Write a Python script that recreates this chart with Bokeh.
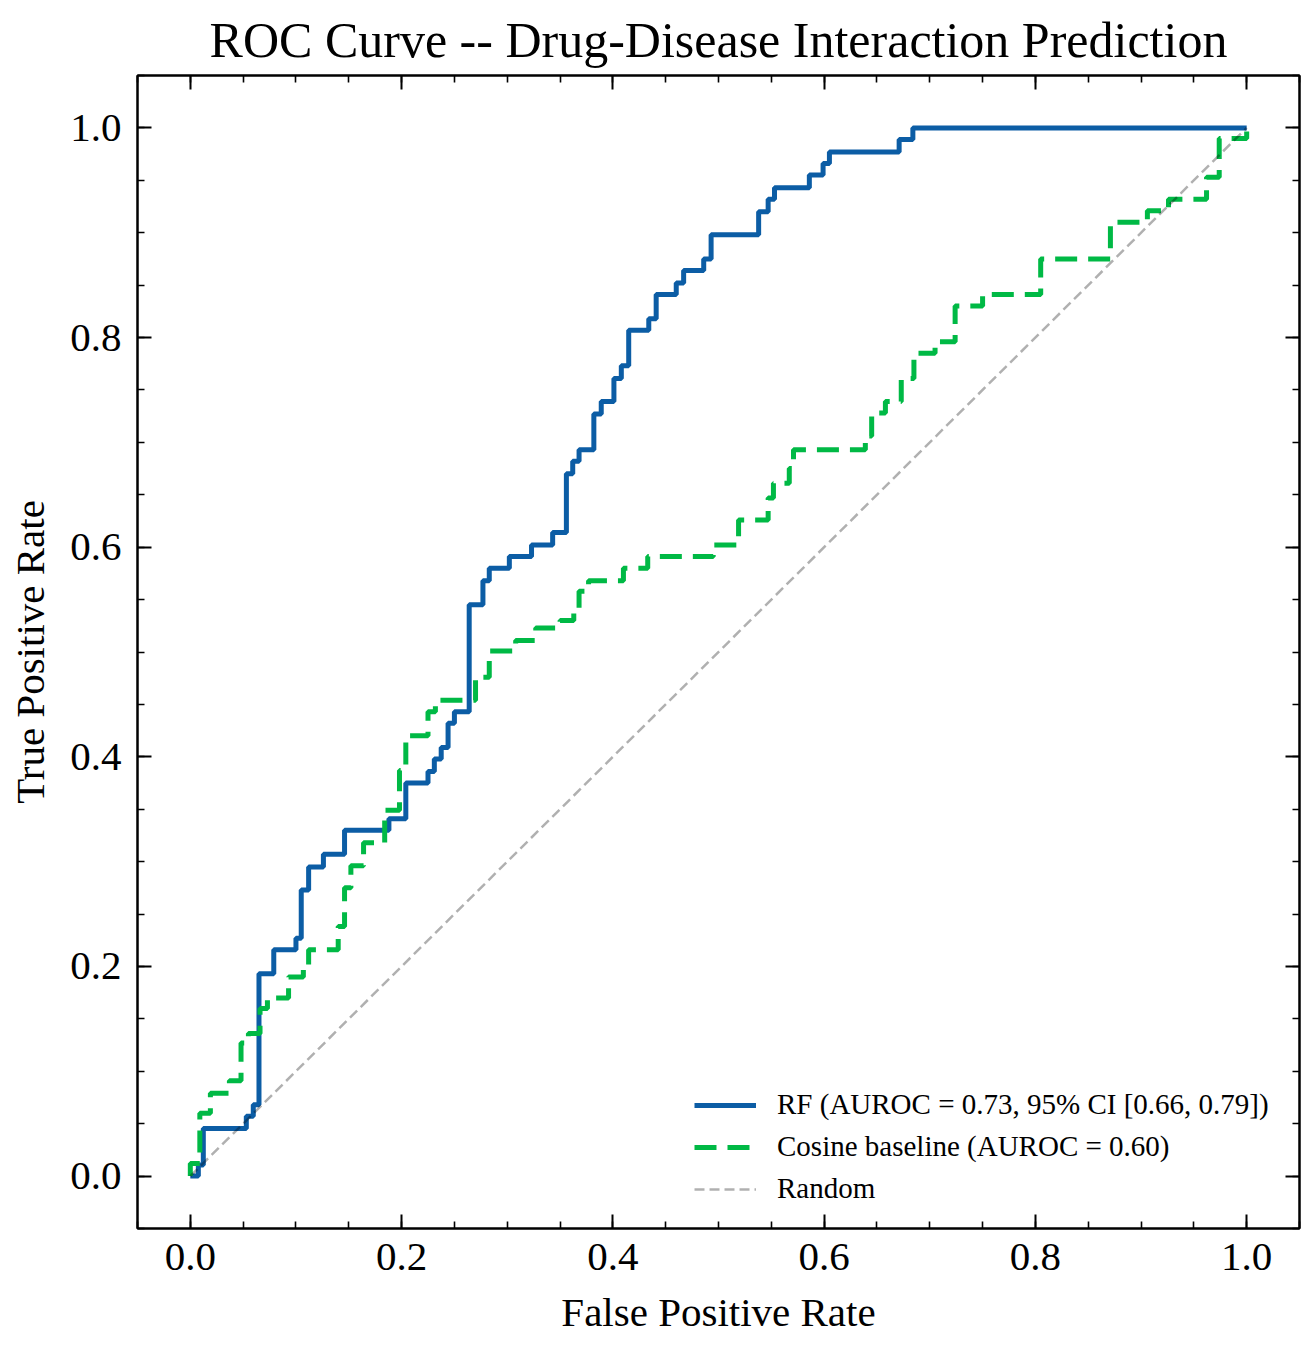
import numpy as np
from bokeh.plotting import figure
from bokeh.models import LinearAxis, FixedTicker, Range1d
from bokeh.embed import file_html
from bokeh.resources import INLINE

# ---------------- data (step levels: tpr holds from fpr[i] to fpr[i+1]) ----------------
rf_fpr = [0.0, 0.0076, 0.0123, 0.053, 0.0596, 0.065, 0.079, 0.100, 0.105, 0.112, 0.126,
          0.146, 0.188, 0.204, 0.225, 0.231, 0.2375, 0.244, 0.250, 0.264, 0.277, 0.283,
          0.302, 0.323, 0.343, 0.356, 0.362, 0.368, 0.382, 0.389, 0.401, 0.408, 0.415,
          0.434, 0.441, 0.460, 0.467, 0.486, 0.493, 0.538, 0.547, 0.553, 0.586, 0.599,
          0.605, 0.671, 0.684, 1.0]
rf_tpr = [0.0, 0.0105, 0.0455, 0.057, 0.068, 0.193, 0.216, 0.227, 0.273, 0.295, 0.307,
          0.330, 0.341, 0.375, 0.386, 0.398, 0.409, 0.432, 0.443, 0.545, 0.568, 0.580,
          0.591, 0.602, 0.614, 0.670, 0.682, 0.693, 0.727, 0.739, 0.761, 0.773, 0.807,
          0.818, 0.841, 0.852, 0.864, 0.875, 0.898, 0.920, 0.932, 0.943, 0.955, 0.966,
          0.977, 0.989, 1.0, 1.0]

cos_fpr = [0.0, 0.0, 0.009, 0.019, 0.037, 0.048, 0.055, 0.066, 0.073, 0.093, 0.107,
           0.112, 0.140, 0.146, 0.152, 0.164, 0.184, 0.198, 0.204, 0.225, 0.232, 0.270,
           0.283, 0.308, 0.327, 0.350, 0.363, 0.368, 0.377, 0.410, 0.433, 0.495, 0.519,
           0.547, 0.552, 0.567, 0.571, 0.639, 0.645, 0.658, 0.673, 0.685, 0.705, 0.724,
           0.750, 0.805, 0.871, 0.906, 0.926, 0.962, 0.974, 1.0]
cos_tpr = [0.0, 0.012, 0.060, 0.079, 0.091, 0.127, 0.136, 0.160, 0.170, 0.190, 0.200,
           0.216, 0.238, 0.275, 0.296, 0.318, 0.349, 0.387, 0.420, 0.443, 0.454, 0.476,
           0.501, 0.511, 0.523, 0.530, 0.541, 0.558, 0.568, 0.580, 0.591, 0.602, 0.626,
           0.647, 0.661, 0.675, 0.693, 0.706, 0.728, 0.739, 0.761, 0.785, 0.796, 0.830,
           0.841, 0.875, 0.910, 0.921, 0.932, 0.953, 0.990, 1.0]

rand_fpr = [0.0, 1.0]
rand_tpr = [0.0, 1.0]

tick_values = [0.0, 0.2, 0.4, 0.6, 0.8, 1.0]
tick_labels = ["0.0", "0.2", "0.4", "0.6", "0.8", "1.0"]
minor_values = [round(-0.05 + 0.05 * i, 2) for i in range(23)]

rf_label = "RF (AUROC = 0.73, 95% CI [0.66, 0.79])"
cos_label = "Cosine baseline (AUROC = 0.60)"
rand_label = "Random"
title_text = "ROC Curve -- Drug-Disease Interaction Prediction"


def stairs(x, y):
    xs, ys = [x[0]], [y[0]]
    for i in range(1, len(x)):
        xs.append(x[i]); ys.append(y[i - 1])
        xs.append(x[i]); ys.append(y[i])
    return xs, ys


FONT = "Liberation Serif"

p = figure(width=1314, height=1350, output_backend="svg", toolbar_location=None,
           x_range=Range1d(-0.05, 1.05), y_range=Range1d(-0.05, 1.05),
           min_border_left=137, min_border_right=15, min_border_top=75, min_border_bottom=122,
           background_fill_color="white", border_fill_color="white")

p.grid.visible = False
p.outline_line_color = "black"
p.outline_line_width = 2

rx, ry = stairs(rf_fpr, rf_tpr)
cx, cy = stairs(cos_fpr, cos_tpr)
p.line(rx, ry, line_color="#0C5DA5", line_width=5, legend_label=rf_label)
p.line(cx, cy, line_color="#00B945", line_width=5, line_dash="22 11", legend_label=cos_label)
p.line(rand_fpr, rand_tpr, line_color="black", line_alpha=0.31, line_width=2.5,
       line_dash="10 5", legend_label=rand_label)

ticker = FixedTicker(ticks=tick_values, minor_ticks=minor_values)
overrides = {v: l for v, l in zip(tick_values, tick_labels)}


def style_axis(ax, labels=True):
    ax.ticker = ticker
    ax.axis_line_color = "black"
    ax.axis_line_width = 2
    ax.major_tick_in = 14
    ax.major_tick_out = 0
    ax.minor_tick_in = 7
    ax.minor_tick_out = 0
    ax.major_tick_line_width = 2
    ax.minor_tick_line_width = 1.6
    ax.major_tick_line_color = "black"
    ax.minor_tick_line_color = "black"
    if labels:
        ax.major_label_overrides = overrides
        ax.major_label_text_font = FONT
        ax.major_label_text_font_size = "41px"
        ax.major_label_text_color = "black"
        ax.axis_label_text_font = FONT
        ax.axis_label_text_font_size = "41px"
        ax.axis_label_text_font_style = "normal"
        ax.axis_label_text_color = "black"
    else:
        # mirrored tick marks only: labels are not drawn at all
        ax.major_label_text_color = None
        ax.major_label_text_font_size = "1px"
        ax.major_label_standoff = 0
        ax.axis_label = None


xa = p.xaxis[0]
ya = p.yaxis[0]
style_axis(xa)
style_axis(ya)
xa.axis_label = "False Positive Rate"
ya.axis_label = "True Positive Rate"
xa.major_label_standoff = 15
ya.major_label_standoff = 16
xa.axis_label_standoff = 16
ya.axis_label_standoff = 14

top_ax = LinearAxis()
right_ax = LinearAxis()
style_axis(top_ax, labels=False)
style_axis(right_ax, labels=False)
p.add_layout(top_ax, "above")
p.add_layout(right_ax, "right")

p.title.text = title_text
p.title.text_font = FONT
p.title.text_font_size = "50px"
p.title.text_font_style = "normal"
p.title.align = "center"
p.title.text_color = "black"
p.title.standoff = 16

lg = p.legend[0]
lg.location = (557, 23)
lg.border_line_color = None
lg.background_fill_alpha = 0
lg.label_text_font = FONT
lg.label_text_font_size = "29px"
lg.label_text_color = "black"
lg.glyph_width = 62
lg.glyph_height = 30
lg.label_height = 30
lg.label_standoff = 21
lg.spacing = 9
lg.padding = 10
lg.margin = 0

open("out.html", "w").write(file_html(p, INLINE))
